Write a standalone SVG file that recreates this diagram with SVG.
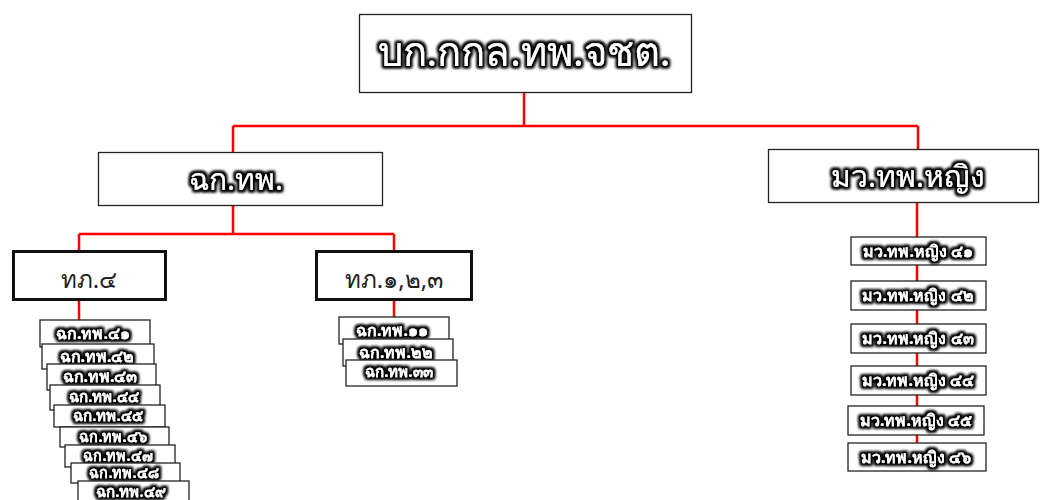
<svg xmlns="http://www.w3.org/2000/svg" width="1040" height="500" viewBox="0 0 1040 500">
<defs>
<filter id="glow" x="-20%" y="-40%" width="140%" height="180%">
<feMorphology in="SourceAlpha" operator="dilate" radius="2" result="d"/>
<feGaussianBlur in="d" stdDeviation="1.8" result="b"/>
<feMerge><feMergeNode in="b"/><feMergeNode in="b"/><feMergeNode in="SourceGraphic"/></feMerge>
</filter>
</defs>
<style>
.box{fill:#fff;stroke:#222;stroke-width:1.3}
.tbox{fill:#fff;stroke:#111;stroke-width:3}
.g{font-family:"Noto Sans","DejaVu Sans",sans-serif;fill:#fff;text-anchor:middle;filter:url(#glow)}
.d{font-family:"Noto Sans","DejaVu Sans",sans-serif;fill:#222;text-anchor:middle}
.b{font-weight:bold}
.ln{stroke:#f00;stroke-width:2.5;fill:none}
</style>
<g id="connectors">
<path class="ln" d="M524 92V126M233 126H918M233 126V152M918 126V150M233 205V234M79 234H394M79 234V251M394 234V251M79 300V320M394 300V317M917 202V443"/>
</g>
<g id="n-top"><rect class="box" x="359.5" y="14.5" width="332" height="78"/><text class="g" x="524" y="66" font-size="40">บก.กกล.ทพ.จชต.</text></g>
<g id="n-chk"><rect class="box" x="98.5" y="152.5" width="284" height="53"/><text class="g" x="236" y="190" font-size="30">ฉก.ทพ.</text></g>
<g id="n-mw"><rect class="box" x="768.5" y="149.5" width="270" height="53"/><text class="g" x="908" y="187" font-size="30">มว.ทพ.หญิง</text></g>
<g id="n-tp4"><rect class="tbox" x="13.5" y="251.5" width="152" height="48"/><text class="d" x="89" y="288" font-size="24">ทภ.๔</text></g>
<g id="n-tp123"><rect class="tbox" x="316.5" y="251.5" width="155" height="48"/><text class="d" x="394" y="288" font-size="24">ทภ.๑,๒,๓</text></g>
<g id="n-41"><rect class="box" x="40" y="320" width="110" height="27"/><text class="g b" x="93" y="339" font-size="16">ฉก.ทพ.๔๑</text></g>
<g id="n-42"><rect class="box" x="42" y="344" width="112" height="25"/><text class="g b" x="97" y="362" font-size="16">ฉก.ทพ.๔๒</text></g>
<g id="n-43"><rect class="box" x="47" y="364" width="109" height="26"/><text class="g b" x="100" y="382" font-size="16">ฉก.ทพ.๔๓</text></g>
<g id="n-44"><rect class="box" x="50" y="385" width="110" height="25"/><text class="g b" x="104" y="402" font-size="15">ฉก.ทพ.๔๔</text></g>
<g id="n-45"><rect class="box" x="54" y="405" width="111" height="22"/><text class="g b" x="108" y="421" font-size="15">ฉก.ทพ.๔๕</text></g>
<g id="n-46"><rect class="box" x="60" y="427" width="109" height="20"/><text class="g b" x="113" y="442" font-size="14.5">ฉก.ทพ.๔๖</text></g>
<g id="n-47"><rect class="box" x="65" y="445" width="110" height="22"/><text class="g b" x="118" y="461" font-size="14.5">ฉก.ทพ.๔๗</text></g>
<g id="n-48"><rect class="box" x="71" y="463" width="109" height="20"/><text class="g b" x="124" y="478" font-size="14.5">ฉก.ทพ.๔๘</text></g>
<g id="n-49"><rect class="box" x="78" y="481" width="111" height="25"/><text class="g b" x="131" y="497" font-size="15">ฉก.ทพ.๔๙</text></g>
<g id="n-11"><rect class="box" x="339" y="317" width="110" height="27"/><text class="g b" x="392" y="336" font-size="16">ฉก.ทพ.๑๑</text></g>
<g id="n-22"><rect class="box" x="343" y="339" width="110" height="27"/><text class="g b" x="396" y="358" font-size="16">ฉก.ทพ.๒๒</text></g>
<g id="n-33"><rect class="box" x="346" y="360" width="111" height="26"/><text class="g b" x="399" y="377" font-size="15">ฉก.ทพ.๓๓</text></g>
<g id="n-m41"><rect class="box" x="851" y="237" width="135" height="28"/><text class="g b" x="918" y="257" font-size="16">มว.ทพ.หญิง ๔๑</text></g>
<g id="n-m42"><rect class="box" x="851" y="281" width="135" height="29"/><text class="g b" x="918" y="301" font-size="16">มว.ทพ.หญิง ๔๒</text></g>
<g id="n-m43"><rect class="box" x="851" y="324" width="135" height="29"/><text class="g b" x="918" y="344" font-size="16">มว.ทพ.หญิง ๔๓</text></g>
<g id="n-m44"><rect class="box" x="851" y="366" width="135" height="29"/><text class="g b" x="918" y="386" font-size="16">มว.ทพ.หญิง ๔๔</text></g>
<g id="n-m45"><rect class="box" x="848" y="406" width="136" height="29"/><text class="g b" x="916" y="426" font-size="16">มว.ทพ.หญิง ๔๕</text></g>
<g id="n-m46"><rect class="box" x="848" y="443" width="138" height="28"/><text class="g b" x="916" y="463" font-size="16">มว.ทพ.หญิง ๔๖</text></g>
</svg>
